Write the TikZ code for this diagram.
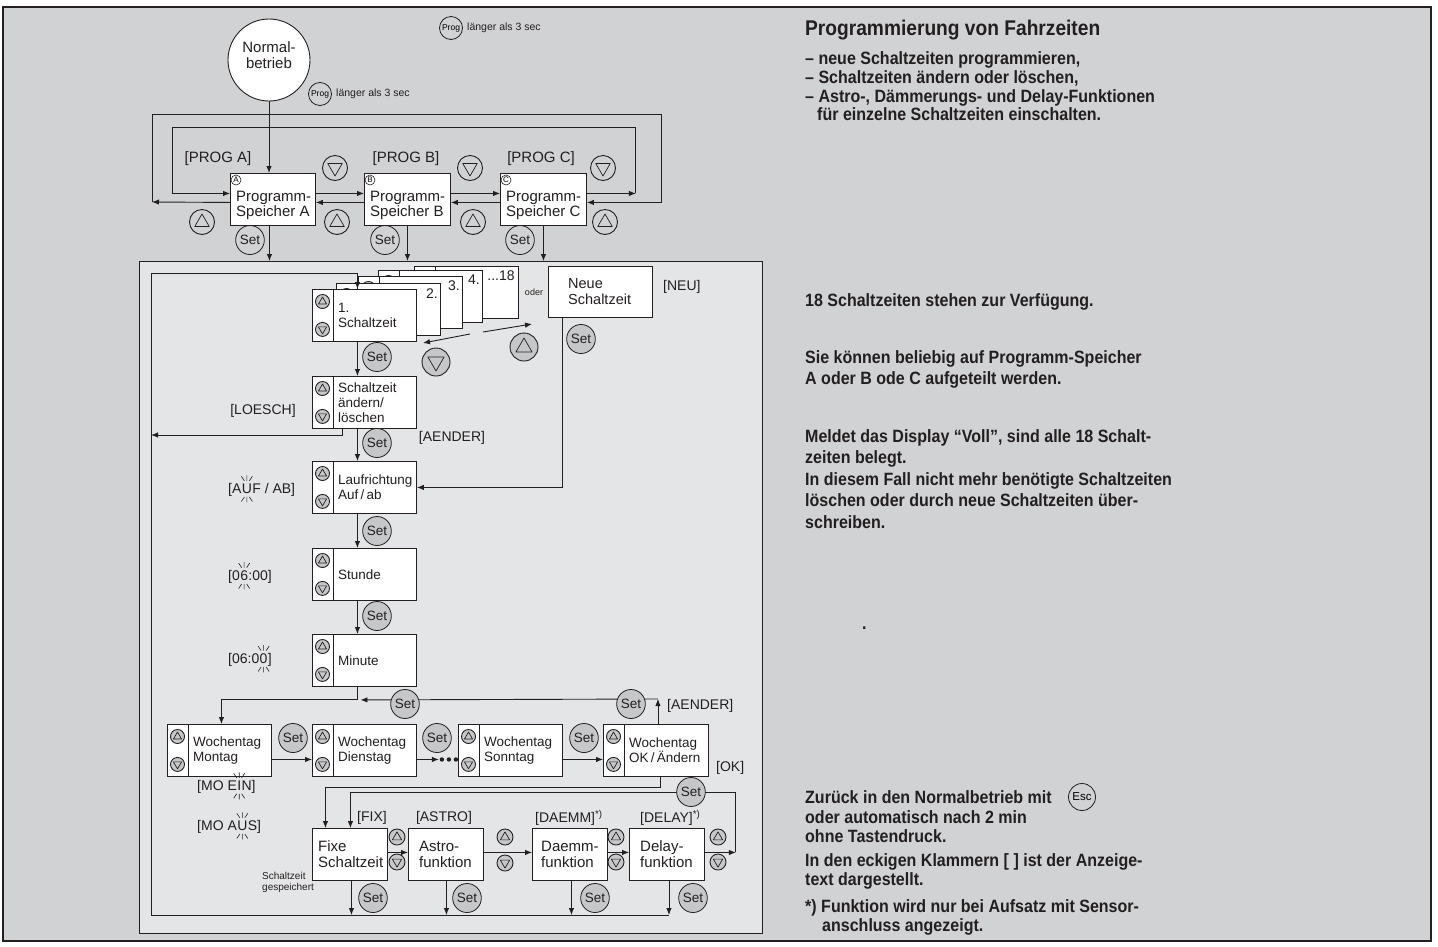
\documentclass[tikz,border=0pt]{standalone}
\usepackage{fontspec}
\setmainfont{Liberation Sans}
\newfontfamily\rfont[FakeStretch=0.9]{Liberation Sans}
\usetikzlibrary{shapes.geometric,arrows.meta,calc}
\definecolor{bgout}{HTML}{D1D2D4}
\definecolor{bgin}{HTML}{E4E5E6}
\definecolor{btn}{HTML}{C6C7C9}
\definecolor{ink}{HTML}{231F20}
\newcommand\fsz[2]{\fontsize{#1}{#2}\selectfont}
\tikzset{
  ln/.style={draw=ink, line width=0.9pt},
  arr/.style={ln, -{Latex[length=7pt,width=5.5pt]}},
  wbox/.style={draw=ink, fill=white, line width=0.9pt, rectangle, inner sep=0pt, anchor=north west, minimum height=52pt},
  setb/.style={ellipse, draw=ink, line width=0.8pt, inner sep=0pt, minimum width=25pt, minimum height=29pt, font={\fsz{13.5}{13.5}}, text=ink},
  setg/.style={setb, fill=btn},
  lbl/.style={inner sep=0pt, font={\fsz{14}{14}}, text=ink},
  btxt/.style={inner sep=0pt, anchor=west, align=left, font={\fsz{13.5}{15}}, text=ink},
  rtxt/.style={inner sep=0pt, anchor=base west, font={\rfont\bfseries\fsz{17.8}{20}}, text=ink},
  pics/ub/.style 2 args={code={
    \draw[ln, fill=#2] (0,0) circle[radius=#1pt];
    \draw[ln, line width=0.7pt, line join=round] (0,-0.64*#1) -- (0.58*#1,0.36*#1) -- (-0.58*#1,0.36*#1) -- cycle;}},
  pics/db/.style 2 args={code={
    \draw[ln, fill=#2] (0,0) circle[radius=#1pt];
    \draw[ln, line width=0.7pt, line join=round] (0,0.64*#1) -- (0.58*#1,-0.36*#1) -- (-0.58*#1,-0.36*#1) -- cycle;}},
}
\newcommand\ctlbox[5]{%
  \node[wbox, minimum width=#4pt] (#1) at (#2,#3) {};
  \draw[ln] ([xshift=21pt]#1.north west) -- ([xshift=21pt]#1.south west);
  \pic at ([shift={(10.5pt,-12.5pt)}]#1.north west) {ub={7}{btn}};
  \pic at ([shift={(10.5pt,12.5pt)}]#1.south west) {db={7}{btn}};
  \node[btxt] (#1t) at ([xshift=26pt]#1.west) {#5};
}
\newcommand\blinklbl[6]{%
  \node[lbl, anchor=west] (#1a) at (#2,#3) {#4};
  \node[lbl, anchor=base west] (#1b) at (#1a.base east) {#5};
  \node[lbl, anchor=base west] (#1c) at (#1b.base east) {#6};
  \draw[ink, line width=0.6pt]
    ([yshift=3pt]#1b.north) -- ([yshift=8.5pt]#1b.north)
    ([shift={(-2.5pt,3pt)}]#1b.north) -- ([shift={(-5.5pt,7.5pt)}]#1b.north)
    ([shift={(2.5pt,3pt)}]#1b.north) -- ([shift={(5.5pt,7.5pt)}]#1b.north)
    ([yshift=-3pt]#1b.south) -- ([yshift=-8.5pt]#1b.south)
    ([shift={(-2.5pt,-3pt)}]#1b.south) -- ([shift={(-5.5pt,-7.5pt)}]#1b.south)
    ([shift={(2.5pt,-3pt)}]#1b.south) -- ([shift={(5.5pt,-7.5pt)}]#1b.south);
}
\begin{document}
\begin{tikzpicture}[x=1pt,y=-1pt]
\useasboundingbox (0,0) rectangle (1438,946);
\fill[white] (0,0) rectangle (1438,946);
\draw[ink, line width=1.6pt, fill=bgout] (3,7) rectangle (1431,941);
\node[draw=ink, line width=1.3pt, fill=bgin, anchor=north west, minimum width=623pt, minimum height=672pt, inner sep=0pt] (inner) at (139,261) {};

% ---------- top part ----------
\node[circle, draw=ink, fill=white, line width=0.9pt, minimum size=82pt, inner sep=0pt] (norm) at (269,60) {};
\node[lbl, align=center, font={\fsz{15}{15.5}}] (normt) at (269,55) {Normal-\\betrieb};
\node[circle, draw=ink, line width=0.8pt, minimum size=23pt, inner sep=0pt, font={\fsz{8.5}{9}}] (prog1) at (451,28) {Prog};
\node[lbl, anchor=west, font={\fsz{10.5}{11}}] (prog1t) at (467,28) {länger als 3 sec};
\node[circle, draw=ink, line width=0.8pt, minimum size=23pt, inner sep=0pt, font={\fsz{8.5}{9}}] (prog2) at (320,94) {Prog};
\node[lbl, anchor=west, font={\fsz{10.5}{11}}] (prog2t) at (336,94) {länger als 3 sec};

\node[wbox, minimum width=85pt] (pa) at (230,173) {};
\node[wbox, minimum width=86pt] (pb) at (364,173) {};
\node[wbox, minimum width=86pt] (pc) at (500,173) {};
\node[lbl, anchor=west, align=left, font={\fsz{15}{15}}] (pat) at (236,205) {Programm-\\Speicher A};
\node[lbl, anchor=west, align=left, font={\fsz{15}{15}}] (pbt) at (370,205) {Programm-\\Speicher B};
\node[lbl, anchor=west, align=left, font={\fsz{15}{15}}] (pct) at (506,205) {Programm-\\Speicher C};
\node[circle, draw=ink, line width=0.6pt, inner sep=0pt, minimum size=10pt, font={\fsz{8}{8}}] (pac) at (236,180) {A};
\node[circle, draw=ink, line width=0.6pt, inner sep=0pt, minimum size=10pt, font={\fsz{8}{8}}] (pbc) at (370,180) {B};
\node[circle, draw=ink, line width=0.6pt, inner sep=0pt, minimum size=10pt, font={\fsz{8}{8}}] (pcc) at (506,180) {C};
\node[lbl, font={\fsz{15}{15}}] (pla) at (218,159) {[PROG A]};
\node[lbl, font={\fsz{15}{15}}] (plb) at (406,159) {[PROG B]};
\node[lbl, font={\fsz{15}{15}}] (plc) at (541,159) {[PROG C]};

\pic at (335,168) {db={12.5}{none}};
\pic at (470,168) {db={12.5}{none}};
\pic at (603,168) {db={12.5}{none}};
\pic at (202,222) {ub={12.5}{none}};
\pic at (337,222) {ub={12.5}{none}};
\pic at (473,222) {ub={12.5}{none}};
\pic at (605,222) {ub={12.5}{none}};

\draw[arr] (norm.south) -- (norm.south |- pa.north);
\draw[arr] ([yshift=6pt]pa.east) -- ([yshift=6pt]pb.west);
\draw[arr] ([yshift=6pt]pb.east) -- ([yshift=6pt]pc.west);
\draw[arr] ([yshift=-3pt]pb.west) -- ([yshift=-3pt]pa.east);
\draw[arr] ([yshift=-3pt]pc.west) -- ([yshift=-3pt]pb.east);
\draw[arr] ([yshift=6pt]pc.east) -- ++(49,0) coordinate (ic);
\draw[arr] (ic) |- (172,127) |- ([yshift=6pt]pa.west);
\draw[arr] ([yshift=-3pt]pa.west) -- (152,202) coordinate (oc);
\draw[arr] (oc) |- (661,114) |- ([yshift=-3pt]pc.east);
\draw[arr] ([xshift=-3.5pt]pa.south) -- ([xshift=-3.5pt]pa.south |- inner.north);
\draw[arr] (pb.south) -- (pb.south |- inner.north);
\draw[arr] (pc.south) -- (pc.south |- inner.north);
\node[setb] (sa) at (250,240) {Set};
\node[setb] (sb) at (385,240) {Set};
\node[setb] (sc) at (520,240) {Set};

% ---------- inner part ----------
\ctlbox{c18}{414}{266}{104}{}
\ctlbox{c4}{378}{270}{104}{}
\ctlbox{c3}{358}{276}{104}{}
\ctlbox{c2}{336}{283}{104}{}
\ctlbox{c1}{312}{289}{104}{1.\\Schaltzeit}
\node[lbl, anchor=north east] (l18) at ([shift={(-4pt,-5pt)}]c18.north east) {...18};
\node[lbl, anchor=north east] (l4) at ([shift={(-3pt,-5pt)}]c4.north east) {4.};
\node[lbl, anchor=north east] (l3) at ([shift={(-3pt,-5pt)}]c3.north east) {3.};
\node[lbl, anchor=north east] (l2) at ([shift={(-3pt,-6pt)}]c2.north east) {2.};
\node[lbl, font={\fsz{9}{9}}] (oder) at (534,292) {oder};
\node[wbox, minimum width=104pt, minimum height=51pt] (neu) at (548,266) {};
\node[btxt, font={\fsz{14.5}{16}}] (neut) at ([xshift=20pt]neu.west) {Neue\\Schaltzeit};
\node[lbl, anchor=west] (neul) at (663,287) {[NEU]};

\ctlbox{aen}{312}{376}{104}{Schaltzeit\\ändern/\\löschen}
\ctlbox{lauf}{312}{461}{104}{Laufrichtung\\Auf\,/\,ab}
\ctlbox{stu}{312}{548}{104}{Stunde}
\ctlbox{min}{312}{634}{104}{Minute}
\node[lbl] (loesch) at (263,411) {[LOESCH]};
\node[lbl] (aender1) at (452,438) {[AENDER]};
\blinklbl{auf}{228}{490}{[A}{U}{F / AB]}
\blinklbl{hr}{228}{577}{[0}{6}{:00]}
\blinklbl{mi}{228}{660}{[06:0}{0}{]}

\ctlbox{mon}{167}{724}{104}{Wochentag\\Montag}
\ctlbox{die}{312}{724}{104}{Wochentag\\Dienstag}
\ctlbox{son}{458}{724}{104}{Wochentag\\Sonntag}
\ctlbox{ok}{603}{724}{105}{Wochentag\\OK\,/\,Ändern}
\node[lbl, anchor=west] (aender2) at (667,706) {[AENDER]};
\node[lbl, anchor=west] (okl) at (716,768) {[OK]};
\blinklbl{ein}{197}{787}{[MO E}{I}{N]}
\blinklbl{aus}{197}{827}{[MO A}{U}{S]}

\node[wbox, minimum width=75pt] (fix) at (312,828) {};
\node[wbox, minimum width=75pt] (ast) at (408,828) {};
\node[wbox, minimum width=75pt] (dae) at (532,828) {};
\node[wbox, minimum width=75pt] (del) at (629,828) {};
\node[btxt, font={\fsz{15}{16}}] (fixt) at ([xshift=6pt]fix.west) {Fixe\\Schaltzeit};
\node[btxt, font={\fsz{15}{16}}] (astt) at ([xshift=11pt]ast.west) {Astro-\\funktion};
\node[btxt, font={\fsz{15}{16}}] (daet) at ([xshift=9pt]dae.west) {Daemm-\\funktion};
\node[btxt, font={\fsz{15}{16}}] (delt) at ([xshift=11pt]del.west) {Delay-\\funktion};
\node[lbl] (fixl) at (372,818) {[FIX]};
\node[lbl] (astl) at (444,818) {[ASTRO]};
\node[lbl, anchor=west] (dael) at (535,818) {[DAEMM]\textsuperscript{*)}};
\node[lbl, anchor=west] (dell) at (640,818) {[DELAY]\textsuperscript{*)}};
\node[inner sep=0pt, anchor=west, align=left, font={\fsz{10}{11}}, text=ink] (gesp) at (262,882) {Schaltzeit\\gespeichert};
\pic at (397,837) {ub={8}{btn}};
\pic at (397,862) {db={8}{btn}};
\pic at (505,837) {ub={8}{btn}};
\pic at (505,863) {db={8}{btn}};
\pic at (616,837) {ub={8}{btn}};
\pic at (616,862) {db={8}{btn}};
\pic at (718,837) {ub={8}{btn}};
\pic at (718,862) {db={8}{btn}};
\pic at (436,362) {db={14}{btn}};
\pic at (524,347) {ub={14}{btn}};

% connectors inner
\draw[arr] (151,915) coordinate (rl) |- ($(c1.north)+(-7,-16)$) -- ([xshift=-7pt]c1.north);
\draw[ln] (rl) -- ([xshift=2pt]del.south |- rl);
\draw[arr] (470,334) coordinate (swl) -- (423,343);
\draw[arr] (483,332) coordinate (swr) -- (532,324);
\draw[arr] ([xshift=-7pt]c1.south) -- ([xshift=-7pt]aen.north);
\draw[arr] ([xshift=-22pt]aen.south) |- (151,435);
\draw[arr] ([xshift=-7pt]aen.south) -- ([xshift=-7pt]lauf.north);
\draw[arr] ([xshift=-38pt]neu.south) |- (lauf.east);
\draw[arr] ([xshift=-7pt]lauf.south) -- ([xshift=-7pt]stu.north);
\draw[arr] ([xshift=-7pt]stu.south) -- ([xshift=-7pt]min.north);
\draw[ln] ([xshift=-7pt]min.south) -- ++(0,13) coordinate (j);
\draw[arr] ([xshift=2pt]ok.north) -- ++(0,-25) coordinate (okc);
\draw[arr] (okc) -- ([xshift=3pt]j);
\draw[arr] (j) -| ([xshift=2pt]mon.north);
\draw[arr] ([yshift=-9pt]mon.east) -- ([yshift=-9pt]die.west);
\draw[arr] ([yshift=-9pt]die.east) -- ++(22,0) coordinate (dd);
\fill[ink] ([xshift=3pt]dd) circle (2.2pt) ([xshift=10pt]dd) circle (2.2pt) ([xshift=17pt]dd) circle (2.2pt);
\draw[arr] ([yshift=-9pt]son.east) -- ([yshift=-9pt]ok.west);
\draw[arr] ([xshift=4pt]ok.south) -- ++(0,11) -| ([xshift=-24.5pt]fix.north);
\draw[arr] ([yshift=2pt]fix.east) -- ([yshift=2pt]ast.west);
\draw[arr] ([yshift=2pt]ast.east) -- ([yshift=2pt]dae.west);
\draw[arr] ([yshift=2pt]dae.east) -- ([yshift=2pt]del.west);
\draw[arr] ([yshift=2pt]del.east) -- ++(31,0) coordinate (dr);
\draw[arr] (dr) -- ++(0,-60) -| ([xshift=0.5pt]fix.north);
\draw[arr] ([xshift=1.5pt]fix.south) -- ([xshift=1.5pt]fix.south |- rl);
\draw[arr] ([xshift=0.5pt]ast.south) -- ([xshift=0.5pt]ast.south |- rl);
\draw[arr] ([xshift=1.5pt]dae.south) -- ([xshift=1.5pt]dae.south |- rl);
\draw[arr] ([xshift=2pt]del.south) -- ([xshift=2pt]del.south |- rl);

% Set buttons inner
\node[setg] (s1) at (377,357) {Set};
\node[setg] (s2) at (581,339) {Set};
\node[setg] (s3) at (377,443) {Set};
\node[setg] (s4) at (377,531) {Set};
\node[setg] (s5) at (377,616) {Set};
\node[setg] (s6) at (405,704) {Set};
\node[setg] (s7) at (631,704) {Set};
\node[setg] (s8) at (293,738) {Set};
\node[setg] (s9) at (437,738) {Set};
\node[setg] (s10) at (584,738) {Set};
\node[setg] (s11) at (691,792) {Set};
\node[setg] (s12) at (373,898) {Set};
\node[setg] (s13) at (467,898) {Set};
\node[setg] (s14) at (595,898) {Set};
\node[setg] (s15) at (693,898) {Set};

% ---------- right text ----------
\node[rtxt, font={\rfont\bfseries\fsz{21.3}{22}}] (r0) at (805,35) {Programmierung von Fahrzeiten};
\node[rtxt] (r1) at (805,64) {– neue Schaltzeiten programmieren,};
\node[rtxt] (r2) at (805,83) {– Schaltzeiten ändern oder löschen,};
\node[rtxt] (r3) at (805,102) {– Astro-, Dämmerungs- und Delay-Funktionen};
\node[rtxt] (r4) at (817,120) {für einzelne Schaltzeiten einschalten.};
\node[rtxt] (r5) at (805,306) {18 Schaltzeiten stehen zur Verfügung.};
\node[rtxt] (r6) at (805,363) {Sie können beliebig auf Programm-Speicher};
\node[rtxt] (r7) at (805,384) {A oder B ode C aufgeteilt werden.};
\node[rtxt] (r8) at (805,442) {Meldet das Display “Voll”, sind alle 18 Schalt-};
\node[rtxt] (r9) at (805,463) {zeiten belegt.};
\node[rtxt] (r10) at (805,485) {In diesem Fall nicht mehr benötigte Schaltzeiten};
\node[rtxt] (r11) at (805,506) {löschen oder durch neue Schaltzeiten über-};
\node[rtxt] (r12) at (805,528) {schreiben.};
\node[rtxt] (rdot) at (862,629) {.};
\node[rtxt] (r13) at (805,803) {Zurück in den Normalbetrieb mit};
\node[rtxt] (r14) at (805,823) {oder automatisch nach 2 min};
\node[rtxt] (r15) at (805,842) {ohne Tastendruck.};
\node[rtxt] (r16) at (805,866) {In den eckigen Klammern [ ] ist der Anzeige-};
\node[rtxt] (r17) at (805,885) {text dargestellt.};
\node[rtxt] (r18) at (805,912) {*) Funktion wird nur bei Aufsatz mit Sensor-};
\node[rtxt] (r19) at (822,931) {anschluss angezeigt.};
\node[circle, draw=ink, line width=0.8pt, minimum size=27pt, inner sep=0pt, font={\fsz{11.5}{12}}] (esc) at (1082,797) {Esc};
\end{tikzpicture}
\end{document}
